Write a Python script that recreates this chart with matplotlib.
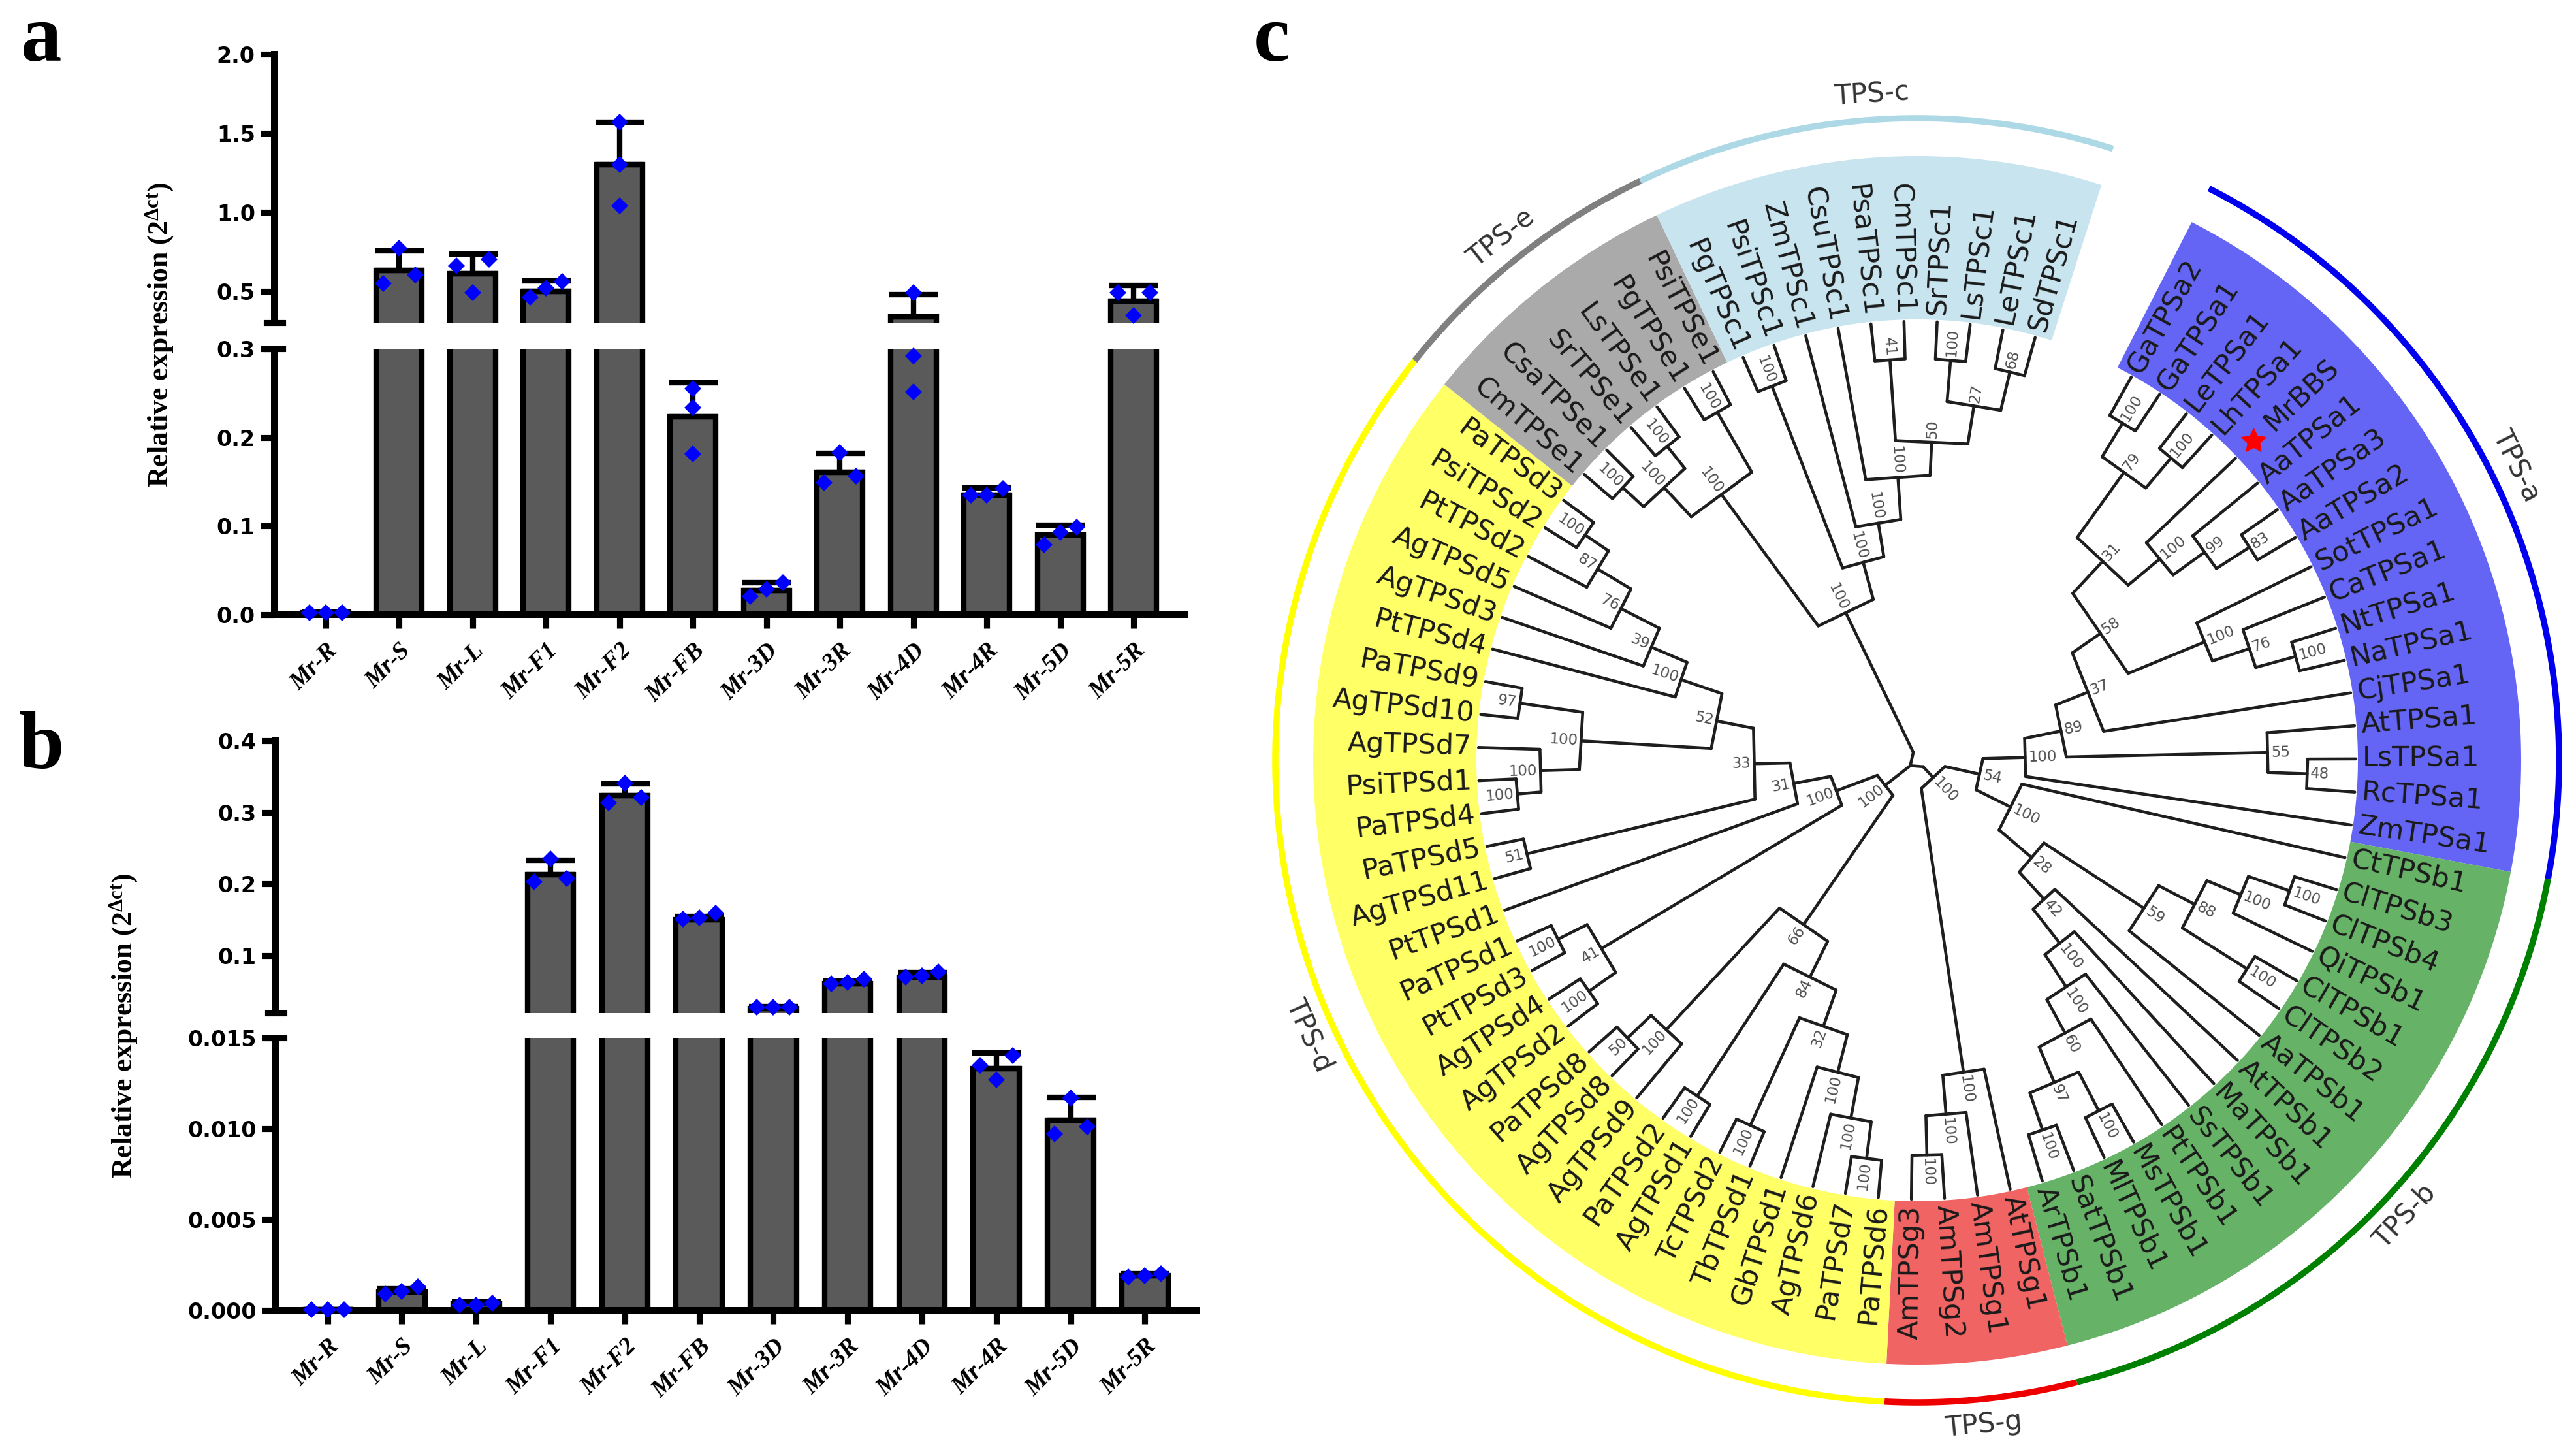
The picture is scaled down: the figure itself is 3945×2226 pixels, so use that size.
import numpy as np
import matplotlib
matplotlib.use('Agg')
import matplotlib.pyplot as plt
from matplotlib.lines import Line2D
from matplotlib.patches import Polygon

W, H, DPI = 3945, 2226, 300

# ---------------- expression data ----------------
tissues = ['Mr-R', 'Mr-S', 'Mr-L', 'Mr-F1', 'Mr-F2', 'Mr-FB', 'Mr-3D', 'Mr-3R',
           'Mr-4D', 'Mr-4R', 'Mr-5D', 'Mr-5R']

a_mean = [0.002, 0.63, 0.61, 0.50, 1.30, 0.223, 0.027, 0.161, 0.337, 0.135, 0.090, 0.436]
a_err = [0.001, 0.125, 0.125, 0.064, 0.27, 0.039, 0.009, 0.021, 0.14, 0.008, 0.011, 0.099]
a_pts = [[0.002, 0.002, 0.002], [0.55, 0.77, 0.60], [0.70, 0.49, 0.66], [0.46, 0.56, 0.52],
         [1.57, 1.30, 1.04], [0.255, 0.234, 0.181], [0.021, 0.036, 0.029], [0.149, 0.183, 0.156],
         [0.49, 0.292, 0.251], [0.135, 0.142, 0.135], [0.079, 0.0985, 0.093], [0.49, 0.345, 0.49]]

b_mean = [0.00003, 0.001, 0.00035, 0.213, 0.323, 0.150, 0.0267, 0.061, 0.070, 0.01332, 0.01047, 0.0019]
b_err = [0.00001, 0.0002, 0.0001, 0.020, 0.017, 0.005, 0.002, 0.004, 0.0065, 0.00085, 0.00124, 0.0001]
b_pts = [[0.00003, 0.00003, 0.00003], [0.0009, 0.0013, 0.00105], [0.0003, 0.0004, 0.0003],
         [0.208, 0.235, 0.203], [0.313, 0.341, 0.321], [0.153, 0.159, 0.151],
         [0.028, 0.028, 0.028], [0.061, 0.067, 0.063], [0.070, 0.077, 0.072],
         [0.0135, 0.01404, 0.0127], [0.0097, 0.0117, 0.0101], [0.0019, 0.0020, 0.00185]]

a_hi_ticks = [0.5, 1.0, 1.5, 2.0]
a_lo_ticks = [0.0, 0.1, 0.2, 0.3]
b_hi_ticks = [0.1, 0.2, 0.3, 0.4]
b_lo_ticks = [0.000, 0.005, 0.010, 0.015]
a_hi_lim, a_lo_lim = (0.3, 2.0), (0.0, 0.3)
b_hi_lim, b_lo_lim = (0.02, 0.4), (0.0, 0.015)

# ---------------- tree data ----------------
clade_names = ['TPS-a', 'TPS-b', 'TPS-g', 'TPS-d', 'TPS-e', 'TPS-c']
clade_leaves = [
    ['GaTPSa2', 'GaTPSa1', 'LeTPSa1', 'LhTPSa1', 'MrBBS', 'AaTPSa1', 'AaTPSa3', 'AaTPSa2',
     'SotTPSa1', 'CaTPSa1', 'NtTPSa1', 'NaTPSa1', 'CjTPSa1', 'AtTPSa1', 'LsTPSa1', 'RcTPSa1', 'ZmTPSa1'],
    ['CtTPSb1', 'ClTPSb3', 'ClTPSb4', 'QiTPSb1', 'ClTPSb1', 'ClTPSb2', 'AaTPSb1', 'AtTPSb1',
     'MaTPSb1', 'SsTPSb1', 'PtTPSb1', 'MsTPSb1', 'MlTPSb1', 'SatTPSb1', 'ArTPSb1'],
    ['AtTPSg1', 'AmTPSg1', 'AmTPSg2', 'AmTPSg3'],
    ['PaTPSd6', 'PaTPSd7', 'AgTPSd6', 'GbTPSd1', 'TbTPSd1', 'TcTPSd2', 'AgTPSd1', 'PaTPSd2',
     'AgTPSd9', 'AgTPSd8', 'PaTPSd8', 'AgTPSd2', 'AgTPSd4', 'PtTPSd3', 'PaTPSd1', 'PtTPSd1',
     'AgTPSd11', 'PaTPSd5', 'PaTPSd4', 'PsiTPSd1', 'AgTPSd7', 'AgTPSd10', 'PaTPSd9', 'PtTPSd4',
     'AgTPSd3', 'AgTPSd5', 'PtTPSd2', 'PsiTPSd2', 'PaTPSd3'],
    ['CmTPSe1', 'CsaTPSe1', 'SrTPSe1', 'LsTPSe1', 'PgTPSe1', 'PsiTPSe1'],
    ['PgTPSc1', 'PsiTPSc1', 'ZmTPSc1', 'CsuTPSc1', 'PsaTPSc1', 'CmTPSc1', 'SrTPSc1', 'LsTPSc1',
     'LeTPSc1', 'SdTPSc1'],
]
# topology: (children)support:node_depth (depth as fraction of tip radius)
newick_a = ("(((((((GaTPSa2,GaTPSa1)100:0.90,(LeTPSa1,LhTPSa1)100:0.90)79:0.81,"
            "(MrBBS,(AaTPSa1,(AaTPSa3,AaTPSa2)83:0.90)99:0.81)100:0.72)31:0.625,"
            "(SotTPSa1,(CaTPSa1,(NtTPSa1,NaTPSa1)100:0.895)76:0.80)100:0.71)58:0.52,"
            "CjTPSa1)37:0.43,(AtTPSa1,(LsTPSa1,RcTPSa1)48:0.89)55:0.80)89:0.34,ZmTPSa1)100:0.25")
newick_b = ("(CtTPSb1,(((((ClTPSb3,ClTPSb4)100:0.90,QiTPSb1)100:0.80,(ClTPSb1,ClTPSb2)100:0.89)88:0.715,"
            "AaTPSb1)59:0.62,(AtTPSb1,(MaTPSb1,(SsTPSb1,(PtTPSb1,((MsTPSb1,MlTPSb1)100:0.90,"
            "(SatTPSb1,ArTPSb1)100:0.89)97:0.80)60:0.71)100:0.62)100:0.53)42:0.43)28:0.345)100:0.245")
newick_g = "(AtTPSg1,(AmTPSg1,(AmTPSg2,AmTPSg3)100:0.90)100:0.81)100:0.72"
newick_d = ("(((((((PaTPSd6,PaTPSd7)100:0.915,AgTPSd6)100:0.83,GbTPSd1)100:0.735,"
            "(TbTPSd1,TcTPSd2)100:0.915)32:0.645,(AgTPSd1,PaTPSd2)100:0.915)84:0.555,"
            "(AgTPSd9,(AgTPSd8,PaTPSd8)50:0.915)100:0.84)66:0.46,"
            "(((AgTPSd2,AgTPSd4)100:0.915,(PtTPSd3,PaTPSd1)100:0.915)41:0.84,"
            "(PtTPSd1,((AgTPSd11,PaTPSd5)51:0.915,((((PaTPSd4,PsiTPSd1)100:0.915,AgTPSd7)100:0.86,"
            "(AgTPSd10,PaTPSd9)97:0.915)100:0.77,(PtTPSd4,(AgTPSd3,(AgTPSd5,(PtTPSd2,"
            "(PsiTPSd2,PaTPSd3)100:0.915)87:0.85)76:0.76)39:0.66)100:0.57)52:0.47)33:0.38)31:0.29)100:0.2)100:0.097")
newick_e = ("(((CmTPSe1,CsaTPSe1)100:0.915,(SrTPSe1,LsTPSe1)100:0.915)100:0.85,"
            "(PgTPSe1,PsiTPSe1)100:0.915)100:0.757")
newick_c = ("((PgTPSc1,PsiTPSc1)100:0.915,(ZmTPSc1,(CsuTPSc1,((PsaTPSc1,CmTPSc1)41:0.915,"
            "((SrTPSc1,LsTPSc1)100:0.915,(LeTPSc1,SdTPSc1)68:0.91)27:0.82)50:0.73)100:0.65)100:0.55)100:0.47")
tree_newick = ("(((" + newick_a + "," + newick_b + ")54:0.15," + newick_g + ")100:0.065,"
               + newick_d + ",(" + newick_e + "," + newick_c + ")100:0.38)")
highlight_leaf = 'MrBBS'

# ---------------- style ----------------
plt.rcParams['font.family'] = ['DejaVu Sans']
plt.rcParams['mathtext.fontset'] = 'custom'
plt.rcParams['mathtext.rm'] = 'Liberation Serif:bold'
plt.rcParams['mathtext.it'] = 'Liberation Serif:bold:italic'
plt.rcParams['mathtext.bf'] = 'Liberation Serif:bold'

shade_cols = ['#6565f5', '#66b266', '#f06464', '#ffff66', '#aaaaaa', '#c8e4ef']
arc_cols = ['#0000ee', '#008000', '#ee0000', '#ffff00', '#808080', '#add8e6']

fig = plt.figure(figsize=(W / DPI, H / DPI), dpi=DPI)


def rect(l, t, r, b):
    return [l / W, 1 - b / H, (r - l) / W, (b - t) / H]


def bar_panel(l, r, t_hi, b_hi, t_lo, b_lo, hi_lim, lo_lim, hi_ticks, lo_ticks,
              means, errs, pts, fmt_hi, fmt_lo):
    ax_hi = fig.add_axes(rect(l, t_hi, r, b_hi))
    ax_lo = fig.add_axes(rect(l, t_lo, r, b_lo))
    x = np.arange(len(tissues))
    for ax, lim in ((ax_hi, hi_lim), (ax_lo, lo_lim)):
        ax.bar(x, means, width=0.62, color='#5a5a5a', edgecolor='black', linewidth=2.0, zorder=2)
        ax.errorbar(x, means, yerr=[np.zeros(len(x)), errs], fmt='none', ecolor='black',
                    elinewidth=2.0, capsize=9, capthick=2.0, zorder=3)
        ax.set_ylim(*lim)
        ax.set_xlim(-0.70, 11.70)
        ax.spines['top'].set_visible(False)
        ax.spines['right'].set_visible(False)
        ax.spines['left'].set_linewidth(2.4)
        ax.tick_params(axis='y', direction='out', length=5, width=2.2, labelsize=8, pad=2)
        ax.patch.set_visible(False)
    ax_hi.spines['bottom'].set_visible(False)
    ax_hi.tick_params(axis='x', bottom=False, labelbottom=False)
    ax_hi.set_yticks(hi_ticks)
    ax_hi.set_yticklabels([fmt_hi % v for v in hi_ticks], fontweight='bold')
    ax_lo.set_yticks(lo_ticks)
    ax_lo.set_yticklabels([fmt_lo % v for v in lo_ticks], fontweight='bold')
    ax_lo.spines['bottom'].set_linewidth(2.4)
    ax_lo.set_xticks(x)
    ax_lo.set_xticklabels(tissues, rotation=45, ha='right', rotation_mode='anchor',
                          family='Liberation Serif', fontweight='bold', style='italic', fontsize=9)
    ax_lo.tick_params(axis='x', direction='out', length=5, width=2.2, pad=4)

    def own_ax(v):
        return ax_lo if v <= lo_lim[1] else ax_hi

    def ypix(v):
        return own_ax(v).transData.transform((0, v))[1]

    # scatter points with GraphPad-like spreading of overlapping points
    d = 0.22
    for i, p in enumerate(pts):
        order = sorted(range(len(p)), key=lambda k: p[k])
        groups, cur = [], [order[0]]
        for k in order[1:]:
            if abs(ypix(p[k]) - ypix(p[cur[-1]])) < 20:
                cur.append(k)
            else:
                groups.append(cur)
                cur = [k]
        groups.append(cur)
        offs = {}
        for g in groups:
            if len(g) == 1:
                offs[g[0]] = 0.0
            elif len(g) == 2:
                offs[g[0]], offs[g[1]] = -d, d
            else:
                for j, k in enumerate(g):
                    offs[k] = -d + 2 * d * j / (len(g) - 1)
        for k, v in enumerate(p):
            own_ax(v).plot([i + offs[k]], [v], linestyle='none', marker='D', markersize=4.3,
                           color='#0000ff', markeredgewidth=0, zorder=4, clip_on=False)
    # axis-break caps
    for yb in (b_hi, t_lo):
        fig.add_artist(Line2D([(l - 12) / W, (l + 13) / W], [1 - yb / H] * 2, color='black',
                              lw=2.2, transform=fig.transFigure))
    return ax_hi, ax_lo


bar_panel(420, 1815, 83, 494, 534, 941, a_hi_lim, a_lo_lim, a_hi_ticks, a_lo_ticks,
          a_mean, a_err, a_pts, '%.1f', '%.1f')
bar_panel(422, 1833, 1134, 1551, 1589, 2006, b_hi_lim, b_lo_lim, b_hi_ticks, b_lo_ticks,
          b_mean, b_err, b_pts, '%.1f', '%.3f')

ylab = r'Relative expression (2$^{\Delta \mathrm{ct}}$)'
fig.text(245 / W, 1 - 512 / H, ylab, rotation=90, ha='center', va='center',
         family='Liberation Serif', fontweight='bold', fontsize=10.5)
fig.text(190 / W, 1 - 1570 / H, ylab, rotation=90, ha='center', va='center',
         family='Liberation Serif', fontweight='bold', fontsize=10.5)

for lab, (px, py) in zip('abc', [(63, 63), (63, 1146), (1948, 63)]):
    fig.text(px / W, 1 - py / H, lab, ha='center', va='center', family='Liberation Serif',
             fontweight='bold', fontsize=30)

# ---------------- circular tree ----------------
ax_t = fig.add_axes([0, 0, 1, 1])
ax_t.set_xlim(0, W)
ax_t.set_ylim(H, 0)
ax_t.axis('off')

CX, CY, RL = 2936, 1164, 672
TH0, DTH = 60.8, 4.33


def P(r, th):
    t = np.radians(th)
    return CX + r * np.cos(t), CY - r * np.sin(t)


def parse(s):
    s = s.replace(' ', '')
    pos = 0

    def node():
        nonlocal pos
        if s[pos] == '(':
            pos += 1
            kids = [node()]
            while s[pos] == ',':
                pos += 1
                kids.append(node())
            pos += 1
            j = pos
            while pos < len(s) and s[pos] not in ',)':
                pos += 1
            lab = s[j:pos]
            if lab:
                sup, dep = lab.split(':')
            else:
                sup, dep = '', '0.02'
            return {'kids': kids, 'sup': sup, 'r': float(dep)}
        j = pos
        while s[pos] not in ',)':
            pos += 1
        return {'name': s[j:pos]}
    return node()


root = parse(tree_newick)
leaves = []


def layout(n):
    if 'name' in n:
        n['th'] = TH0 - DTH * len(leaves)
        n['r'] = 1.0
        leaves.append(n)
    else:
        for k in n['kids']:
            layout(k)
        n['th'] = 0.5 * (n['kids'][0]['th'] + n['kids'][-1]['th'])


layout(root)
assert [l['name'] for l in leaves] == sum(clade_leaves, [])

LW = 1.1
LC = '#1e1e1e'


def draw(n):
    if 'name' in n:
        return
    r = n['r'] * RL
    pts_ch = [P(r, k['th']) for k in n['kids']]
    ax_t.plot([p[0] for p in pts_ch], [p[1] for p in pts_ch], color=LC, lw=LW,
              solid_capstyle='round', zorder=3)
    for k in n['kids']:
        x0, y0 = P(r, k['th'])
        if 'name' in k:
            x1, y1 = P(RL, k['th'])
        else:
            half = 0.5 * abs(k['kids'][0]['th'] - k['kids'][-1]['th'])
            x1, y1 = P(k['r'] * RL * np.cos(np.radians(half)), k['th'])
        ax_t.plot([x0, x1], [y0, y1], color=LC, lw=LW, solid_capstyle='round', zorder=3)
        draw(k)
    if n['sup']:
        half = 0.5 * abs(n['kids'][0]['th'] - n['kids'][-1]['th'])
        rm = r * np.cos(np.radians(half)) + 5
        th = n['th']
        tx, ty = P(rm, th)
        a = th % 360
        if 90 < a < 270:
            ax_t.text(tx, ty, n['sup'], rotation=a - 180, ha='right', va='center',
                      rotation_mode='anchor', fontsize=5.5, color='#505050', zorder=4)
        else:
            ax_t.text(tx, ty, n['sup'], rotation=a, ha='left', va='center',
                      rotation_mode='anchor', fontsize=5.5, color='#505050', zorder=4)


draw(root)

# clade shading, arcs and labels
R_IN, R_OUT, R_ARC, R_LAB = RL + 3, 925, 983, 1022
start = 0
for ci, (cname, cl) in enumerate(zip(clade_names, clade_leaves)):
    th_a = TH0 - DTH * start + DTH / 2
    th_b = TH0 - DTH * (start + len(cl) - 1) - DTH / 2
    ths = np.linspace(th_a, th_b, 120)
    outer = [P(R_OUT, t) for t in ths]
    inner = [P(R_IN, t) for t in ths[::-1]]
    ax_t.add_patch(Polygon(outer + inner, closed=True, facecolor=shade_cols[ci],
                           edgecolor='none', zorder=1))
    arc = np.array([P(R_ARC, t) for t in ths])
    ax_t.plot(arc[:, 0], arc[:, 1], color=arc_cols[ci], lw=2.3, solid_capstyle='butt', zorder=2)
    thm = 0.5 * (th_a + th_b)
    lx, ly = P(R_LAB, thm)
    rot = thm - 90 if np.sin(np.radians(thm)) >= 0 else thm + 90
    ax_t.text(lx, ly, cname, rotation=rot, ha='center', va='center', rotation_mode='anchor',
              fontsize=10, color='#333333', zorder=4)
    start += len(cl)

# leaf labels
for lf in leaves:
    th = lf['th']
    a = th % 360
    off = 70 if lf['name'] == highlight_leaf else 10
    tx, ty = P(RL + off, th)
    if 90 < a < 270:
        ax_t.text(tx, ty, lf['name'], rotation=a - 180, ha='right', va='center',
                  rotation_mode='anchor', fontsize=10.3, color='#1a1a1a', zorder=4)
    else:
        ax_t.text(tx, ty, lf['name'], rotation=a, ha='left', va='center',
                  rotation_mode='anchor', fontsize=10.3, color='#1a1a1a', zorder=4)
    if lf['name'] == highlight_leaf:
        sx, sy = P(RL + 38, th)
        ax_t.plot([sx], [sy], marker=(5, 1, 0), markersize=10, color='red',
                  markeredgewidth=0, zorder=5)

fig.savefig('out.png', dpi=DPI)
